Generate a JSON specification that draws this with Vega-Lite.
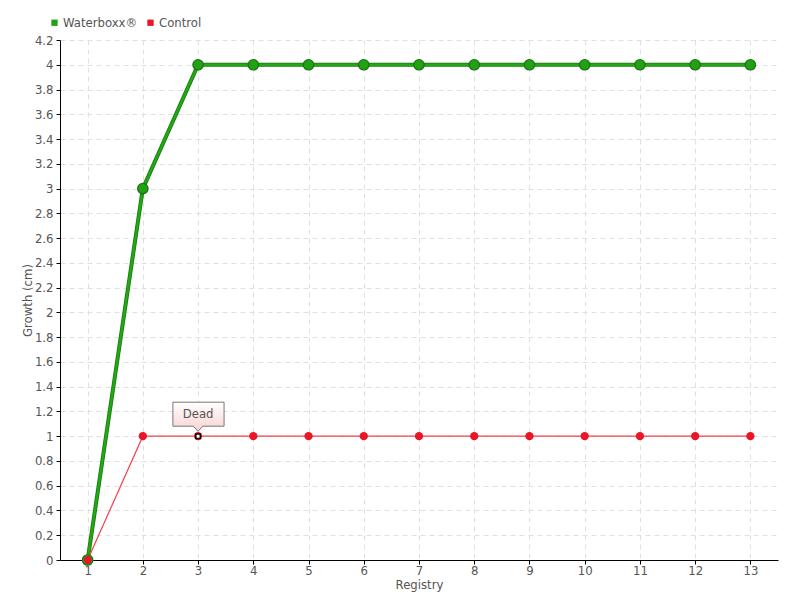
{
  "$schema": "https://vega.github.io/schema/vega-lite/v6.json",
  "width": 718,
  "height": 520,
  "autosize": "none",
  "padding": {"left": 60, "top": 40, "right": 22, "bottom": 40},
  "background": "white",
  "config": {
    "view": {"stroke": null},
    "font": "DejaVu Sans Condensed",
    "axis": {
      "labelFont": "DejaVu Sans Condensed",
      "titleFont": "DejaVu Sans Condensed",
      "labelFontSize": 13,
      "titleFontSize": 13,
      "titleFontWeight": "normal",
      "labelColor": "#555",
      "titleColor": "#555",
      "domainColor": "#000",
      "tickColor": "#000",
      "tickSize": 4,
      "gridColor": "#e0e0e0",
      "gridDash": [5, 4]
    },
    "legend": {
      "labelFont": "DejaVu Sans Condensed",
      "labelFontSize": 13,
      "labelColor": "#555"
    }
  },
  "data": {
    "values": [
      {"x": 1, "y": 0, "series": "Waterboxx®"},
      {"x": 2, "y": 3, "series": "Waterboxx®"},
      {"x": 3, "y": 4, "series": "Waterboxx®"},
      {"x": 4, "y": 4, "series": "Waterboxx®"},
      {"x": 5, "y": 4, "series": "Waterboxx®"},
      {"x": 6, "y": 4, "series": "Waterboxx®"},
      {"x": 7, "y": 4, "series": "Waterboxx®"},
      {"x": 8, "y": 4, "series": "Waterboxx®"},
      {"x": 9, "y": 4, "series": "Waterboxx®"},
      {"x": 10, "y": 4, "series": "Waterboxx®"},
      {"x": 11, "y": 4, "series": "Waterboxx®"},
      {"x": 12, "y": 4, "series": "Waterboxx®"},
      {"x": 13, "y": 4, "series": "Waterboxx®"},
      {"x": 1, "y": 0, "series": "Control"},
      {"x": 2, "y": 1, "series": "Control"},
      {"x": 3, "y": 1, "series": "Control", "note": "Dead"},
      {"x": 4, "y": 1, "series": "Control"},
      {"x": 5, "y": 1, "series": "Control"},
      {"x": 6, "y": 1, "series": "Control"},
      {"x": 7, "y": 1, "series": "Control"},
      {"x": 8, "y": 1, "series": "Control"},
      {"x": 9, "y": 1, "series": "Control"},
      {"x": 10, "y": 1, "series": "Control"},
      {"x": 11, "y": 1, "series": "Control"},
      {"x": 12, "y": 1, "series": "Control"},
      {"x": 13, "y": 1, "series": "Control"}
    ]
  },
  "encoding": {
    "x": {
      "field": "x", "type": "quantitative",
      "scale": {"domain": [0.5, 13.5], "nice": false, "zero": false},
      "axis": {"values": [1,2,3,4,5,6,7,8,9,10,11,12,13], "title": "Registry", "titlePadding": 1, "labelPadding": 0, "format": "d"}
    },
    "y": {
      "field": "y", "type": "quantitative",
      "scale": {"domain": [0, 4.2], "nice": false},
      "axis": {"values": [0,0.2,0.4,0.6,0.8,1,1.2,1.4,1.6,1.8,2,2.2,2.4,2.6,2.8,3,3.2,3.4,3.6,3.8,4,4.2], "title": "Growth (cm)", "format": "~g", "titlePadding": 0, "labelPadding": 3}
    }
  },
  "layer": [
    {
      "transform": [{"filter": "datum.series == 'Waterboxx®'"}],
      "mark": {"type": "line", "color": "#187a0e", "strokeWidth": 4},
      "encoding": {"order": {"field": "x"}}
    },
    {
      "transform": [{"filter": "datum.series == 'Waterboxx®'"}],
      "mark": {"type": "line", "color": "#22a814", "strokeWidth": 2.4},
      "encoding": {"order": {"field": "x"}}
    },
    {
      "transform": [{"filter": "datum.series == 'Control'"}],
      "mark": {"type": "line", "color": "#f2404e", "strokeWidth": 1.2},
      "encoding": {"order": {"field": "x"}}
    },
    {
      "transform": [{"filter": "datum.series == 'Waterboxx®'"}],
      "mark": {"type": "point", "filled": true, "opacity": 1, "fill": "#23a015", "stroke": "#17750f", "strokeWidth": 1.2, "size": 110}
    },
    {
      "mark": {"type": "point", "filled": true, "opacity": 1, "size": 68},
      "encoding": {
        "fill": {"field": "series", "type": "nominal", "scale": {"domain": ["Waterboxx®", "Control"], "range": ["#23a015", "#ea1626"]},
          "legend": {"title": null, "orient": "none", "legendX": -12, "legendY": -24, "direction": "horizontal", "symbolType": "square", "symbolSize": 40, "symbolStrokeWidth": 0, "columnPadding": 6, "labelOffset": 2}}
      }
    },
    {
      "transform": [{"filter": "datum.note == 'Dead'"}],
      "mark": {"type": "point", "shape": "square", "filled": true, "fill": "white", "stroke": "black", "strokeWidth": 1.5, "size": 20, "opacity": 1}
    },
    {
      "transform": [{"filter": "datum.note == 'Dead'"}],
      "mark": {"type": "point", "shape": "M-0.63,-0.85 L0.65,-0.85 L0.65,-0.25 L0.12,-0.25 L0,-0.12 L-0.12,-0.25 L-0.63,-0.25 Z", "size": 6400, "filled": true, "opacity": 1,
        "fill": {"gradient": "linear", "x1": 0, "y1": 0, "x2": 0, "y2": 1, "stops": [{"offset": 0, "color": "#ffffff"}, {"offset": 1, "color": "#f9d2d2"}]},
        "stroke": "#777", "strokeWidth": 1}
    },
    {
      "transform": [{"filter": "datum.note == 'Dead'"}],
      "mark": {"type": "text", "dy": -22, "fontSize": 13, "color": "#555", "font": "DejaVu Sans Condensed"},
      "encoding": {"text": {"field": "note"}}
    }
  ]
}
